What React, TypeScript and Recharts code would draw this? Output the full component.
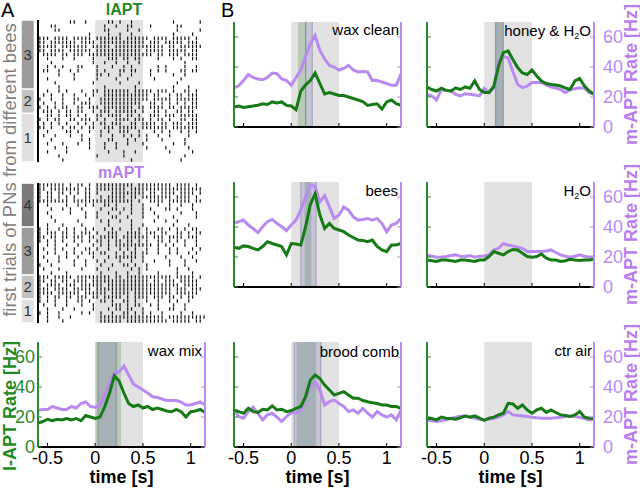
import React from "react";
import {
  ComposedChart,
  Line,
  ReferenceArea,
  ReferenceLine,
  Scatter,
  ScatterChart,
  XAxis,
  YAxis,
} from "recharts";

const FONT = "'Liberation Sans', Arial, sans-serif";
const GREEN = "#167a16";
const GREEN_AXIS = "#2a8a2a";
const PURPLE = "#b98bf0";
const STIM = "#e2e2e2";
const L_BAND = "rgba(40,120,40,0.22)";
const M_BAND = "rgba(90,80,170,0.2)";

const X_DOMAIN = [-0.6, 1.15];
const X_TICKS = [-0.5, 0, 0.5, 1];
const Y_TICKS = [0, 20, 40, 60];

// time axis shared by every rate trace (s)
const TIME = [
  -0.6, -0.55, -0.5, -0.45, -0.4, -0.35,
  -0.3, -0.25, -0.2, -0.15, -0.1, -0.05,
  0, 0.05, 0.1, 0.15, 0.2, 0.25,
  0.3, 0.35, 0.4, 0.45, 0.5, 0.55,
  0.6, 0.65, 0.7, 0.75, 0.8, 0.85,
  0.9, 0.95, 1.0, 1.05, 1.1, 1.15,
];

// l-APT (green) and m-APT (purple) rates, Hz
const WAX_MIX_L = [
  16, 17, 18.5, 17.5, 18.5, 18,
  19, 18, 19, 17.5, 21, 20,
  19, 20, 27, 36, 47.5, 44,
  36, 29, 27, 28, 26, 27,
  25, 26, 25, 24, 23.5, 25,
  23.5, 20, 23.5, 24, 25, 23,
];
const WAX_MIX_M = [
  24.5, 25, 25, 27, 26, 25,
  25, 27, 26, 29, 30, 27,
  26.5, 28, 35, 42, 49, 50,
  54, 48, 42, 40, 38, 36,
  33.5, 33, 32, 31, 31, 31,
  30, 28, 28, 29, 30, 28,
];
const WAX_CLEAN_L = [
  13.3, 14, 13, 13.5, 14, 14.5,
  15.5, 15, 16.7, 16, 16.7, 14.4,
  14, 11.5, 24, 28, 31, 36,
  29, 22, 23, 22, 21, 21,
  20, 19, 18, 17, 14.4, 15,
  15.5, 12, 16.7, 18, 15.5, 14.4,
];
const WAX_CLEAN_M = [
  26, 27.5, 31, 35, 33, 32,
  31.5, 33, 36, 35.5, 32, 31,
  27.8, 33, 38, 47, 55.5, 61,
  51, 45.5, 41, 40, 38, 39,
  41, 38, 36.7, 37, 36.7, 31,
  31, 30, 29, 27.8, 27.8, 35.5,
];
const HONEY_L = [
  26.7, 25, 24, 25.8, 24.4, 24,
  26, 25, 26.7, 25.8, 30.7, 25,
  23, 23, 27, 40.7, 49.6, 50.7,
  45, 39.6, 36, 35, 38, 34,
  30.7, 29, 28.4, 28, 27.3, 26,
  25, 30.7, 32.4, 27.3, 24, 21.8,
];
const HONEY_M = [
  21.8, 20.7, 18, 25, 24.4, 24,
  21.8, 20.7, 22.2, 21.8, 21.3, 20.7,
  25.8, 22.9, 26.2, 44, 47, 46,
  37, 28.4, 26.2, 27.3, 29.6, 29.6,
  29.6, 28, 26.7, 26, 25, 22.9,
  25, 25.5, 26.2, 25.8, 22.9, 21.8,
];
const BEES_L = [
  26.5, 25.8, 27.4, 27, 25.8, 24.7,
  27, 30.2, 29, 28, 27, 21.4,
  29, 28.7, 28, 40, 55, 62,
  48, 39, 42.4, 39, 38, 36.9,
  34.7, 33, 31.3, 31, 30.2, 31.3,
  27, 24.7, 23.6, 28, 28, 29,
];
const BEES_M = [
  42.8, 43.5, 44.6, 41.3, 39, 36.2,
  40.2, 43.5, 45, 42.4, 40.2, 37.5,
  41.3, 44.6, 51.2, 60, 68, 67,
  56.7, 61, 53.4, 45.7, 48, 53.4,
  51.2, 46.8, 44.6, 45, 45.7, 44.6,
  45.7, 42.4, 36.9, 41.3, 42.4, 45.7,
];
const H2O_L = [
  18, 17.5, 17, 18, 18, 17.5,
  17, 18, 18, 17.5, 17, 18,
  18, 20.3, 23.6, 22.5, 21.4, 23.6,
  25, 24.7, 22.5, 20.3, 19.9, 20.3,
  22, 19.2, 18, 18, 17, 17.5,
  18.5, 18, 17.7, 18, 18, 18.5,
];
const H2O_M = [
  21.4, 20.5, 19.9, 20, 20.3, 21,
  21.4, 20.5, 20.3, 21, 19.9, 20.5,
  20.7, 21.4, 24.7, 25.8, 29, 28,
  27.4, 26.5, 25.8, 23.6, 23.6, 23.6,
  23.6, 24, 24.7, 23, 21.4, 20.5,
  19.9, 20.5, 21.4, 20.5, 19.9, 20.3,
];
const BROOD_L = [
  24.7, 23.6, 22.5, 25.8, 23.6, 23,
  25.2, 24.7, 27.4, 24.7, 25.2, 23.6,
  24.3, 25.8, 27, 33.6, 44.6, 48,
  45.7, 41.3, 38, 34.7, 35.8, 36.9,
  34.7, 32.5, 32.5, 31, 30.2, 29.5,
  29, 28, 28, 27, 27, 25.8,
];
const BROOD_M = [
  24.7, 20.3, 19.2, 23.6, 26.5, 22.5,
  18.1, 21.4, 22.5, 19.9, 17, 20.3,
  23, 22.5, 24.7, 32.5, 40.2, 43.5,
  38, 28, 30.2, 31.3, 29, 27,
  23.6, 24.7, 22.5, 25.8, 22.5, 19.9,
  23.6, 21.4, 19.9, 21.4, 18.1, 24.7,
];
const CTR_L = [
  19.2, 19, 18.1, 19.9, 19.2, 19,
  18.5, 19.5, 20.7, 19.9, 20.7, 19.2,
  17.7, 19.2, 19.9, 21.4, 22.5, 29.1,
  28.7, 25.8, 28, 24.7, 22.5, 24.7,
  25.8, 23, 24.7, 23, 21.4, 21,
  20.3, 21.4, 23.6, 19.9, 19.2, 19.2,
];
const CTR_M = [
  18.1, 17.5, 17, 17.5, 18.1, 19,
  19.9, 20.5, 20.7, 20, 19.2, 18.5,
  18.1, 18.5, 19.2, 19.9, 21.4, 23.6,
  21.4, 21, 20.7, 20.3, 19.9, 19.5,
  19.2, 19.2, 19.2, 19.5, 19.9, 20.3,
  20.7, 20.3, 19.9, 19, 18.1, 18.5,
];

// significant response windows [start, end] (s)
const WAX_MIX_L_WIN = [0, 0.27];
const WAX_MIX_M_WIN = [0.03, 0.22];
const WAX_CLEAN_L_WIN = [0.07, 0.16];
const WAX_CLEAN_M_WIN = [0.15, 0.22];
const HONEY_L_WIN = [0.11, 0.2];
const HONEY_M_WIN = [0.12, 0.2];
const BEES_L_WIN = [0.14, 0.21];
const BEES_M_WIN = [0.1, 0.26];
const BROOD_L_WIN = [0.055, 0.26];
const BROOD_M_WIN = [0.03, 0.31];

// raster: one string per trial, 0.04 s bins from -0.6 s, "|" = spike
const RASTER_BIN = 0.04;
const L_RASTER = [
  "........||..|.....||.|..|..........|......|",
  "...||............|..|..||....|......||.....",
  "....||...........||....|..|.........|.....|",
  ".............|....|..|..|..........|....|.",
  "|||.||||.|||||.|||||||.||||||.||||.|||||.|",
  "||.|||||||.||||.||||||||||||.|||.|||||.|||.",
  "|||||.|||||||.|||||.|||||||||||||.||.||||||",
  "||.||||.||||||.||||||||||||.|||||.|||||.||.",
  ".||||.||.|||.|||||||||||||||||.||.|||.||||.",
  "..|...|..|....|...|||.||.||....|...|.|..||.",
  "...|..........|..|..|..|..|...........|....",
  "..|.|.|...||...|...|..|.|......|.|....|..|.",
  ".||..|..|.|....|.|...||.||...|.|.|...||.||.",
  ".....|...|.....||.|..|..|....|.....|..|....",
  "..|......|.....|....|..|......|......|.....",
  "....|.........|......|....|.........|......",
  ".....|...........|.......|.........|...|...",
  "..|..|.|...|..||.|||||||.|||||.|||.|..||.|.",
  ".|.|..|..|..|.|..||||||||||||.||..|.||.|||.",
  "|..|..|..||..|..|||||||||||||.|||||.||||||.",
  ".|..|.|..|.|||..|||||||||||..||.|.|.|.|.||.",
  "|.|.|.||..||.|||.||||||||.||.||||.||.|||||.",
  ".|||.|.||.||..|.|||.||||||.|..||.|..||.||..",
  "..||.|.||.|.|..||.||||.||.|..|||.|||.|||||.",
  "|.|.||..||.|||.|.|..||||.|||.|.||.|..||.||.",
  ".|.|.|.|..|.|.|.||.|||..||.||||.||.|||.|||.",
  "||.|..|.||.|.||..|||.|||||.|||||||.|||||||.",
  "..|....||.|..|..|.|..|||..|...|.|.|..|.|.|.",
  ".|..|...|..|....|..|..|.|.|.|..|..|....|...",
  "...|.......|.|....||...|.|..|...|.....|....",
  "..|...|...|..|...|..|..|...|.......|..|....",
  "....|..|.....|...|..|.......|....|.....|...",
  "..|....|..........|...|..|........|.....|..",
  ".....|.........|......|...............|....",
  "......|.................|............|.....",
];
const M_RASTER = [
  "|||||||.|.||.|.||||||||||.|||||||||.||||.|.",
  "||.||||||||.||.||||||||.|||||||||||||||||||",
  "|.||.||.|.|.||.|...|||||||||.||.||||.||||.|",
  "|.||.|.|.|..||..|.|||||.||.||||||||.||||.|.",
  "||||||||.||||||||||||||||.|..||||.||||||.||",
  "..|....|..|.|.|..||.|...|..|...|..|..|..|..",
  "...|..|.|..|....|..||.|.|..|.|...||.|...|..",
  "..|.....|...|..|..|..|..|..|..|......|...|.",
  "...|........|..|...||..|...|...|...|.....|.",
  "....|.....|.....|.|..|..|.....|..|..|......",
  "..|...|....|......|.....|..|.......|...|...",
  "|.|..|.|.|..|.|..|.|.|..|.|.|..||.|.|.|.||.",
  "|.|||.||.|.|||.|..|||..||||.|||.||..||.|.||",
  "||.||.||.|||.||.|||||.|||||||.|||.||||.|||.",
  "|.|.|.|..|.|.|.||.|.||.||.|.|..||.|.|.|..|.",
  "..|.|..|..|...|.|.|.||||||||||.|.|.|..|..|.",
  ".|..|.|..|..||.|..|..|.|.|..|..|..|.|...|.|",
  "..|.|..|.|.|.||.||..|.|.||.||..|..|.|..|.|.",
  ".|...|.|..|...|...|.||||||.|.....|...|..|..",
  "..|..|...|..|..|.|...|..|..|..|...|...|..|.",
  "|..|.....|..|...|..|..||.|..|.....|...|....",
  ".|...|.....|...|..|.....|.|.|.......|..|...",
  "...|...|........|...|..|..|....|....|...|..",
  "|||.|||||.|||||||||.||.||||||||||||.|||||.|",
  "||.||.||.||||.|||||||||||||||.||.|||.|||||.",
  "|.||||.|||.||||||.|||||||||||||||||||.||||.",
  "|||.||||.|||||.||||||||||||||||||||.|||.|||",
  "||||.||||||.||||||.|||||.||||||||||.||||||.",
  "|.|.||.||.|||.||.|||||.|.||||.|||.||.|.||..",
  "|.|.|..|..||.|..||.|..||.|..|..|..|.|..|...",
  ".|..|..|...|..|....|||.|.||..|.|...|..|....",
  "..|...|..|....|...|.||.||..|...|..||..|....",
  "|.|..|.....|.|..|..|..||.|.|.|..|....|..|..",
  "..|..|..|.......|||||||||||||||||.||||||||||",
  "..|...|.........||||||.|||||||||||.|||||.||.",
];

// bee groups: [label, first trial, last trial, shade]
const L_GROUPS: [string, number, number, string][] = [
  ["3", 0, 16, "#9c9c9c"],
  ["2", 17, 22, "#c2c2c2"],
  ["1", 23, 34, "#e0e0e0"],
];
const M_GROUPS: [string, number, number, string][] = [
  ["4", 0, 10, "#7a7a7a"],
  ["3", 11, 22, "#9c9c9c"],
  ["2", 23, 28, "#c2c2c2"],
  ["1", 29, 34, "#e0e0e0"],
];

const PW = 167;
const PH = 105;

function toSpikes(rows: string[]) {
  const out: { t: number; row: number }[] = [];
  rows.forEach((r, i) => {
    for (let b = 0; b < r.length; b++) {
      if (r[b] === "|") out.push({ t: X_DOMAIN[0] + (b + 0.5) * RASTER_BIN, row: i });
    }
  });
  return out;
}

const SpikeMark = (props: any) => (
  <line
    x1={props.cx}
    x2={props.cx}
    y1={props.cy - 1.7}
    y2={props.cy + 1.7}
    stroke="#111"
    strokeWidth={1.2}
  />
);

function Raster({ rows, groups, x, y, h }: any) {
  const LM = 18;
  const n = rows.length;
  return (
    <div style={{ position: "absolute", left: x - LM, top: y }}>
      <ScatterChart width={LM + PW} height={h} margin={{ top: 0, right: 0, bottom: 0, left: LM }}>
        <XAxis type="number" dataKey="t" domain={X_DOMAIN} allowDataOverflow hide />
        <YAxis type="number" dataKey="row" domain={[-0.5, n - 0.5]} reversed allowDataOverflow hide />
        <ReferenceArea x1={0} x2={0.5} fill={STIM} fillOpacity={1} stroke="none" />
        {groups.map((g: any) => (
          <ReferenceArea
            key={g[0]}
            x1={-0.77}
            x2={-0.645}
            y1={g[1] - 0.3}
            y2={g[2] + 0.3}
            fill={g[3]}
            fillOpacity={1}
            stroke="none"
            ifOverflow="visible"
            label={{ value: g[0], position: "center", fontSize: 15, fill: "#333" }}
          />
        ))}
        <ReferenceLine x={X_DOMAIN[0]} stroke="#000" strokeWidth={2} />
        <Scatter data={toSpikes(rows)} shape={SpikeMark} isAnimationActive={false} />
      </ScatterChart>
    </div>
  );
}

function RatePanel({ x, y, green, purple, lWin, mWin, leftLabels, rightLabels, bottomLabels }: any) {
  const L = leftLabels ? 40 : 20;
  const R = rightLabels ? 40 : 6;
  const T = 8;
  const XH = bottomLabels ? 30 : 10;
  const data = TIME.map((t, i) => ({ t, g: green[i], p: purple[i] }));
  return (
    <div style={{ position: "absolute", left: x - L, top: y - T }}>
      <ComposedChart
        width={L + PW + R}
        height={T + PH + XH}
        data={data}
        margin={{ top: T, right: 0, bottom: 0, left: 0 }}
      >
        <XAxis
          type="number"
          dataKey="t"
          domain={X_DOMAIN}
          allowDataOverflow
          ticks={X_TICKS}
          interval={0}
          height={XH}
          tickSize={-4}
          tickMargin={8}
          axisLine={{ stroke: "#000", strokeWidth: 2 }}
          tickLine={{ stroke: "#000" }}
          tick={{ fontSize: 18, fill: "#000" }}
          tickFormatter={(v) => (bottomLabels ? String(v) : "")}
        />
        <YAxis
          yAxisId="l"
          domain={[0, 70]}
          ticks={Y_TICKS}
          interval={0}
          width={L}
          tickSize={-4}
          tickMargin={7}
          axisLine={{ stroke: GREEN_AXIS, strokeWidth: 2 }}
          tickLine={{ stroke: GREEN_AXIS }}
          tick={{ fontSize: 18, fill: GREEN_AXIS }}
          tickFormatter={(v) => (leftLabels ? String(v) : "")}
        />
        <YAxis
          yAxisId="r"
          orientation="right"
          domain={[0, 70]}
          ticks={Y_TICKS}
          interval={0}
          width={R}
          tickSize={-4}
          tickMargin={13}
          axisLine={{ stroke: PURPLE, strokeWidth: 2 }}
          tickLine={{ stroke: PURPLE }}
          tick={{ fontSize: 18, fill: PURPLE, textAnchor: "start" }}
          tickFormatter={(v) => (rightLabels ? String(v) : "")}
        />
        <ReferenceArea yAxisId="l" x1={0} x2={0.5} fill={STIM} fillOpacity={1} stroke="none" />
        {lWin && (
          <ReferenceArea yAxisId="l" x1={lWin[0]} x2={lWin[1]} fill={L_BAND} fillOpacity={1} stroke="none" />
        )}
        {mWin && (
          <ReferenceArea yAxisId="l" x1={mWin[0]} x2={mWin[1]} fill={M_BAND} fillOpacity={1} stroke="none" />
        )}
        {mWin && <ReferenceLine yAxisId="l" x={mWin[0]} stroke="rgba(70,80,110,0.4)" />}
        {mWin && <ReferenceLine yAxisId="l" x={mWin[1]} stroke="rgba(70,80,110,0.4)" />}
        <Line yAxisId="r" dataKey="p" stroke={PURPLE} strokeWidth={3} dot={false} type="linear" isAnimationActive={false} />
        <Line yAxisId="l" dataKey="g" stroke={GREEN} strokeWidth={3} dot={false} type="linear" isAnimationActive={false} />
      </ComposedChart>
    </div>
  );
}

const COL_A = 38;
const COL_1 = 234;
const COL_2 = 427;
const ROWS = [22, 182, 342];

export default function App() {
  const title = { fontSize: 15, fill: "#000", textAnchor: "end" as const };
  const rot = (x: number, y: number) => `rotate(-90 ${x} ${y})`;
  return (
    <div
      style={{
        position: "absolute",
        left: 0,
        top: 0,
        width: 640,
        height: 490,
        background: "#fff",
        fontFamily: FONT,
        overflow: "hidden",
      }}
    >
      <Raster rows={L_RASTER} groups={L_GROUPS} x={COL_A} y={20} h={142} />
      <Raster rows={M_RASTER} groups={M_GROUPS} x={COL_A} y={183} h={140} />

      <RatePanel x={COL_A} y={ROWS[2]} green={WAX_MIX_L} purple={WAX_MIX_M} lWin={WAX_MIX_L_WIN} mWin={WAX_MIX_M_WIN} leftLabels bottomLabels />

      <RatePanel x={COL_1} y={ROWS[0]} green={WAX_CLEAN_L} purple={WAX_CLEAN_M} lWin={WAX_CLEAN_L_WIN} mWin={WAX_CLEAN_M_WIN} />
      <RatePanel x={COL_2} y={ROWS[0]} green={HONEY_L} purple={HONEY_M} lWin={HONEY_L_WIN} mWin={HONEY_M_WIN} rightLabels />
      <RatePanel x={COL_1} y={ROWS[1]} green={BEES_L} purple={BEES_M} lWin={BEES_L_WIN} mWin={BEES_M_WIN} />
      <RatePanel x={COL_2} y={ROWS[1]} green={H2O_L} purple={H2O_M} rightLabels />
      <RatePanel x={COL_1} y={ROWS[2]} green={BROOD_L} purple={BROOD_M} lWin={BROOD_L_WIN} mWin={BROOD_M_WIN} bottomLabels />
      <RatePanel x={COL_2} y={ROWS[2]} green={CTR_L} purple={CTR_M} rightLabels bottomLabels />

      <svg width={640} height={490} style={{ position: "absolute", left: 0, top: 0, pointerEvents: "none" }}>
        <text x={1} y={17} fontSize={20}>A</text>
        <text x={221} y={17} fontSize={20}>B</text>
        <text x={124} y={15} fontSize={16} fontWeight="bold" fill="#1f8a1f" textAnchor="middle">lAPT</text>
        <text x={121} y={178} fontSize={16} fontWeight="bold" fill="#b87ef0" textAnchor="middle">mAPT</text>
        <text x={16} y={170} fontSize={18.5} fill="#808080" textAnchor="middle" transform={rot(16, 170)}>
          first trials of PNs from different bees
        </text>
        <text x={16} y={406} fontSize={18} fontWeight="bold" fill="#1f8a1f" textAnchor="middle" transform={rot(16, 406)}>
          l-APT Rate [Hz]
        </text>
        {ROWS.map((r) => (
          <text key={r} x={637} y={r + PH / 2} fontSize={18} fontWeight="bold" fill="#b87ef0" textAnchor="middle" transform={rot(637, r + PH / 2)}>
            m-APT Rate [Hz]
          </text>
        ))}
        {[COL_A, COL_1, COL_2].map((c) => (
          <text key={c} x={c + PW / 2} y={483} fontSize={18} fontWeight="bold" textAnchor="middle">
            time [s]
          </text>
        ))}
        <text x={202} y={356} {...title}>wax mix</text>
        <text x={399} y={35} {...title}>wax clean</text>
        <text x={591} y={36} {...title}>
          honey &amp; H<tspan fontSize={9} dy={3}>2</tspan><tspan dy={-3}>O</tspan>
        </text>
        <text x={398} y={196} {...title}>bees</text>
        <text x={591} y={196} {...title}>
          H<tspan fontSize={9} dy={3}>2</tspan><tspan dy={-3}>O</tspan>
        </text>
        <text x={399} y={357} {...title}>brood comb</text>
        <text x={592} y={356} {...title}>ctr air</text>
      </svg>
    </div>
  );
}
